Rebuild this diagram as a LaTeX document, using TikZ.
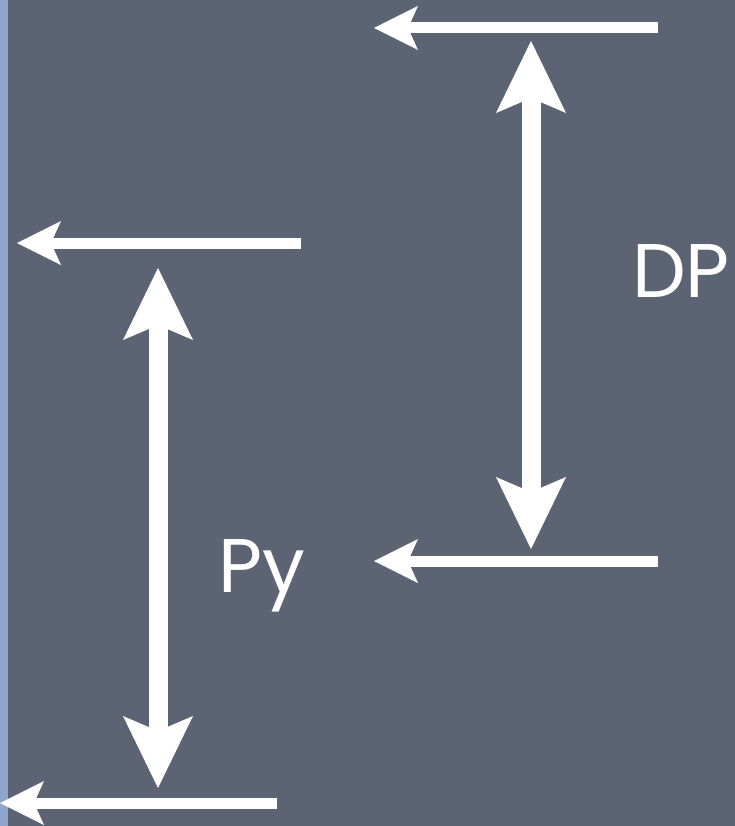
\documentclass[tikz,border=0pt]{standalone}
\usepackage{fontspec}
\setmainfont{Poppins}
\usetikzlibrary{arrows.meta}
\definecolor{slate}{RGB}{92,100,116}
\definecolor{edgeblue}{RGB}{143,166,204}
\tikzset{
  hline/.style={draw=white, line width=11pt, line cap=butt,
    -{Stealth[length=44pt, width=44pt, inset=10pt, line width=0pt]}},
  vline/.style={draw=white, line width=19pt, line cap=butt,
    {Stealth[length=72pt, width=70pt, inset=15pt, line width=0pt]}-{Stealth[length=72pt, width=70pt, inset=15pt, line width=0pt]}},
  label/.style={text=white, font=\fontsize{76}{80}\selectfont, inner sep=0pt, anchor=base west}
}
\begin{document}
\begin{tikzpicture}[x=1pt, y=-1pt]
  % chalkboard and its side strip
  \fill[slate] (0,0) rectangle (735,826);
  \fill[edgeblue] (0,0) rectangle (8,826);
  \useasboundingbox (0,0) rectangle (735,826);

  % level line end points
  \coordinate (t1s) at (658,28);  \coordinate (t1e) at (374,28);
  \coordinate (t2s) at (658,561); \coordinate (t2e) at (374,561);
  \coordinate (l1s) at (301,243); \coordinate (l1e) at (17,243);
  \coordinate (l2s) at (277,803); \coordinate (l2e) at (0,803);

  % dimension arrow end points
  \coordinate (dpTop) at (531,41);  \coordinate (dpBot) at (531,549);
  \coordinate (pyTop) at (158,268); \coordinate (pyBot) at (158,788);

  \draw[hline] (t1s) -- (t1e);
  \draw[hline] (t2s) -- (t2e);
  \draw[hline] (l1s) -- (l1e);
  \draw[hline] (l2s) -- (l2e);

  \draw[vline] (dpTop) -- (dpBot);
  \draw[vline] (pyTop) -- (pyBot);

  \node[label] (dp) at (632,297) {DP};
  \node[label] (py) at (218,592) {Py};
\end{tikzpicture}
\end{document}
